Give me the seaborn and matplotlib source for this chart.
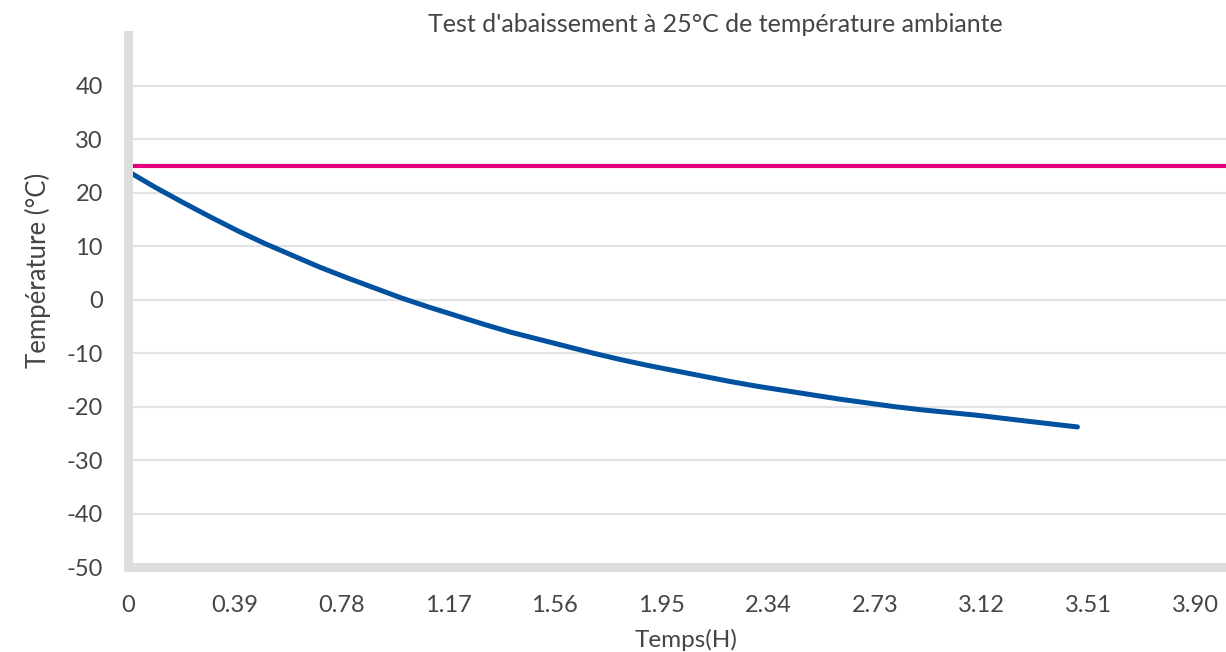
import matplotlib
matplotlib.use("Agg")
import matplotlib.pyplot as plt
import pandas as pd
import seaborn as sns

# ---- data ----
time_h = [0.0, 0.1, 0.2, 0.3, 0.4, 0.5, 0.6, 0.7, 0.8, 0.9, 1.0, 1.1, 1.2, 1.3, 1.4, 1.5,
          1.6, 1.7, 1.8, 1.9, 2.0, 2.1, 2.2, 2.3, 2.4, 2.5, 2.6, 2.7, 2.8, 2.9, 3.0, 3.1,
          3.2, 3.3, 3.4, 3.47]
temp_product = [24.0, 21.0, 18.2, 15.5, 12.9, 10.5, 8.3, 6.1, 4.1, 2.2, 0.3, -1.4, -3.0, -4.6,
                -6.1, -7.4, -8.7, -10.0, -11.2, -12.3, -13.3, -14.3, -15.3, -16.2, -17.0,
                -17.8, -18.6, -19.3, -20.0, -20.6, -21.1, -21.6, -22.2, -22.8, -23.4, -23.8]
ambient_time = [0.0, 4.013]
ambient_temp = [25.0, 25.0]
x_ticks = [0, 0.39, 0.78, 1.17, 1.56, 1.95, 2.34, 2.73, 3.12, 3.51, 3.90]
x_tick_labels = ["0", "0.39", "0.78", "1.17", "1.56", "1.95", "2.34", "2.73", "3.12", "3.51", "3.90"]
y_ticks = [-50, -40, -30, -20, -10, 0, 10, 20, 30, 40]

title = "Test d'abaissement à 25°C de température ambiante"
x_label = "Temps(H)"
y_label = "Température (°C)"

sns.set_theme(style="white")
plt.rcParams['font.family'] = ['Lato', 'DejaVu Sans']
plt.rcParams['axes.unicode_minus'] = False
text_color = "#454545"

W, H = 1226, 652
fig = plt.figure(figsize=(W / 100, H / 100), dpi=100)
ax = fig.add_axes([128 / W, 1 - 567 / H, 1 - 128 / W, (567 - 35) / H])

df_prod = pd.DataFrame({"t": time_h, "T": temp_product})
df_amb = pd.DataFrame({"t": ambient_time, "T": ambient_temp})
sns.lineplot(data=df_amb, x="t", y="T", ax=ax, color="#E5007D", lw=3.0, zorder=3)
sns.lineplot(data=df_prod, x="t", y="T", ax=ax, color="#0052A0", lw=3.6, zorder=3)

ax.set_xlim(0, 4.013)
ax.set_ylim(-50, 49.5)
ax.set_xticks(x_ticks)
ax.set_xticklabels(x_tick_labels)
ax.set_yticks(y_ticks)
ax.set_xlabel("")
ax.set_ylabel("")

ax.set_axisbelow(True)
ax.yaxis.grid(True, color="#E2E2E2", lw=1.5)
ax.xaxis.grid(False)

for side in ("top", "right"):
    ax.spines[side].set_visible(False)
for side in ("left", "bottom"):
    ax.spines[side].set_color("#DCDDDD")
    ax.spines[side].set_linewidth(6.5)
    ax.spines[side].set_zorder(4)

ax.tick_params(axis="x", direction="in", length=15.5, width=1.0, color="#C4C4C4",
               pad=20, labelsize=17, labelcolor=text_color)
ax.tick_params(axis="y", length=0, pad=18, labelsize=17, labelcolor=text_color)

fig.text(715 / W, 1 - 25 / H, title, ha="center", va="center", fontsize=18,
         color=text_color)
fig.text(686 / W, 1 - 640 / H, x_label, ha="center", va="center", fontsize=17.5,
         color=text_color)
fig.text(38 / W, 1 - 270 / H, y_label, ha="center", va="center", rotation=90,
         fontsize=18.5, color=text_color)

fig.savefig("out.png", dpi=100)
